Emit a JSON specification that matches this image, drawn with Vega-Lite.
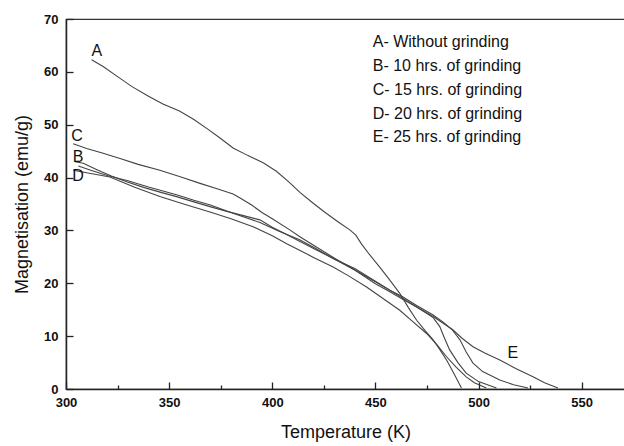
{
  "$schema": "https://vega.github.io/schema/vega-lite/v6.json",
  "width": 559,
  "height": 370,
  "autosize": "none",
  "padding": {"left": 66, "top": 19, "right": 0, "bottom": 57},
  "background": "white",
  "view": {"stroke": "#333", "strokeWidth": 1.2},
  "config": {
    "font": "Liberation Sans",
    "axis": {"grid": false, "domainColor": "#222", "domainWidth": 1.5, "tickColor": "#222", "tickWidth": 1.3,
      "labelFont": "Liberation Sans", "labelFontSize": 13, "labelFontWeight": "bold", "labelColor": "#111",
      "titleFont": "Liberation Sans", "titleFontSize": 18, "titleFontWeight": "normal", "titleColor": "#111"}
  },
  "datasets": {
    "curves": [
      {"s":"A","T":312.4,"M":62.3},{"s":"A","T":318,"M":61.0},{"s":"A","T":325,"M":59.1},{"s":"A","T":332,"M":57.2},{"s":"A","T":340,"M":55.4},{"s":"A","T":347,"M":53.9},{"s":"A","T":355,"M":52.6},{"s":"A","T":362,"M":51.0},{"s":"A","T":368.2,"M":49.3},{"s":"A","T":375,"M":47.4},{"s":"A","T":381,"M":45.6},{"s":"A","T":388,"M":44.2},{"s":"A","T":395.6,"M":42.8},{"s":"A","T":402,"M":41.2},{"s":"A","T":408,"M":39.2},{"s":"A","T":413.4,"M":37.2},{"s":"A","T":420,"M":35.1},{"s":"A","T":426.3,"M":33.2},{"s":"A","T":432,"M":31.6},{"s":"A","T":437.6,"M":30.1},{"s":"A","T":440.5,"M":29.1},{"s":"A","T":443.3,"M":27.4},{"s":"A","T":447,"M":25.5},{"s":"A","T":452,"M":23.1},{"s":"A","T":457,"M":20.6},{"s":"A","T":461.8,"M":18.1},{"s":"A","T":466,"M":15.4},{"s":"A","T":470,"M":13},{"s":"A","T":474,"M":11.1},{"s":"A","T":478,"M":9.3},{"s":"A","T":481,"M":7.6},{"s":"A","T":484.5,"M":5.5},{"s":"A","T":488,"M":3},{"s":"A","T":491.7,"M":0.2},
      {"s":"C","T":303.5,"M":46.4},{"s":"C","T":310,"M":45.5},{"s":"C","T":318,"M":44.6},{"s":"C","T":326.2,"M":43.6},{"s":"C","T":335,"M":42.5},{"s":"C","T":345.5,"M":41.4},{"s":"C","T":355,"M":40.2},{"s":"C","T":365,"M":38.9},{"s":"C","T":374,"M":37.8},{"s":"C","T":381,"M":36.9},{"s":"C","T":385,"M":36.0},{"s":"C","T":390,"M":34.8},{"s":"C","T":395,"M":33.4},{"s":"C","T":400,"M":32.2},{"s":"C","T":408.5,"M":30.1},{"s":"C","T":413,"M":28.9},{"s":"C","T":420,"M":27.2},{"s":"C","T":430,"M":24.8},{"s":"C","T":440,"M":22.5},{"s":"C","T":450,"M":20.3},{"s":"C","T":457,"M":18.7},{"s":"C","T":463,"M":17.5},{"s":"C","T":470,"M":15.8},{"s":"C","T":478,"M":14},{"s":"C","T":483,"M":12.6},{"s":"C","T":487,"M":11.3},{"s":"C","T":491,"M":9.3},{"s":"C","T":494,"M":7},{"s":"C","T":497.3,"M":4.9},{"s":"C","T":502,"M":3.3},{"s":"C","T":510.3,"M":1.7},{"s":"C","T":517,"M":0.8},{"s":"C","T":524,"M":0.2},
      {"s":"B","T":304.4,"M":43},{"s":"B","T":308.4,"M":42.7},{"s":"B","T":315,"M":41.5},{"s":"B","T":322,"M":40.3},{"s":"B","T":329.4,"M":39.2},{"s":"B","T":338,"M":38.1},{"s":"B","T":346,"M":37.2},{"s":"B","T":353.6,"M":36.4},{"s":"B","T":362,"M":35.4},{"s":"B","T":369.8,"M":34.5},{"s":"B","T":378,"M":33.6},{"s":"B","T":386,"M":32.8},{"s":"B","T":394,"M":32},{"s":"B","T":400,"M":30.6},{"s":"B","T":406,"M":29.4},{"s":"B","T":413,"M":28},{"s":"B","T":420,"M":26.6},{"s":"B","T":430,"M":24.6},{"s":"B","T":440,"M":22.8},{"s":"B","T":450,"M":20.4},{"s":"B","T":457,"M":18.7},{"s":"B","T":463,"M":17.2},{"s":"B","T":470,"M":15.5},{"s":"B","T":478,"M":13.5},{"s":"B","T":481.2,"M":11.8},{"s":"B","T":483.5,"M":9.6},{"s":"B","T":486,"M":7.4},{"s":"B","T":490,"M":5},{"s":"B","T":494,"M":3},{"s":"B","T":500,"M":1.4},{"s":"B","T":508.7,"M":0.2},
      {"s":"E","T":306,"M":42.2},{"s":"E","T":312,"M":41.4},{"s":"E","T":320,"M":40.4},{"s":"E","T":330,"M":39.4},{"s":"E","T":340,"M":38.2},{"s":"E","T":354,"M":36.7},{"s":"E","T":362,"M":35.7},{"s":"E","T":370,"M":34.8},{"s":"E","T":382,"M":33.1},{"s":"E","T":394,"M":31.5},{"s":"E","T":403,"M":29.9},{"s":"E","T":413,"M":28.3},{"s":"E","T":420,"M":26.8},{"s":"E","T":430,"M":24.6},{"s":"E","T":440,"M":22.5},{"s":"E","T":450,"M":19.9},{"s":"E","T":457,"M":18.4},{"s":"E","T":463,"M":17},{"s":"E","T":470,"M":15.5},{"s":"E","T":478,"M":13.7},{"s":"E","T":487.5,"M":11.2},{"s":"E","T":492,"M":9.6},{"s":"E","T":497.3,"M":8},{"s":"E","T":503,"M":6.8},{"s":"E","T":510.3,"M":5.5},{"s":"E","T":518,"M":3.9},{"s":"E","T":526.4,"M":2.3},{"s":"E","T":532,"M":1.2},{"s":"E","T":538.5,"M":0.2},
      {"s":"D","T":303.5,"M":41.4},{"s":"D","T":310,"M":40.9},{"s":"D","T":321.3,"M":40.1},{"s":"D","T":333,"M":38.2},{"s":"D","T":345.5,"M":36.4},{"s":"D","T":357,"M":35},{"s":"D","T":369.8,"M":33.5},{"s":"D","T":380,"M":32.2},{"s":"D","T":390.7,"M":30.7},{"s":"D","T":400,"M":29},{"s":"D","T":407,"M":27.5},{"s":"D","T":413,"M":26.3},{"s":"D","T":420,"M":24.9},{"s":"D","T":429.5,"M":23.1},{"s":"D","T":437,"M":21.4},{"s":"D","T":445.7,"M":19.3},{"s":"D","T":453,"M":17.3},{"s":"D","T":461.8,"M":14.9},{"s":"D","T":468,"M":12.8},{"s":"D","T":474.8,"M":10.5},{"s":"D","T":480,"M":8.3},{"s":"D","T":484.5,"M":6.1},{"s":"D","T":489,"M":4.2},{"s":"D","T":494,"M":2.3},{"s":"D","T":498,"M":1.2},{"s":"D","T":503.8,"M":0.2}
    ],
    "letters": [
      {"t":"A","T":315,"M":63.9},
      {"t":"C","T":305.3,"M":47.8},
      {"t":"B","T":305.8,"M":43.9},
      {"t":"D","T":305.8,"M":40.3},
      {"t":"E","T":516.6,"M":6.8}
    ],
    "legend": [
      {"t":"A- Without grinding","T":448.7,"M":65.7},
      {"t":"B- 10 hrs. of grinding","T":448.7,"M":61.1},
      {"t":"C- 15 hrs. of grinding","T":448.7,"M":56.5},
      {"t":"D- 20 hrs. of grinding","T":448.7,"M":52.0},
      {"t":"E- 25 hrs. of grinding","T":448.7,"M":47.6}
    ]
  },
  "layer": [
    {
      "data": {"name": "curves"},
      "mark": {"type": "line", "color": "#444", "strokeWidth": 1.1},
      "encoding": {
        "x": {"field": "T", "type": "quantitative",
          "scale": {"domain": [300, 571], "nice": false, "zero": false},
          "axis": {"title": "Temperature (K)", "values": [300,325,350,375,400,425,450,475,500,525,550],
            "labelExpr": "datum.value % 50 === 0 ? datum.label : ''",
            "tickSize": {"condition": {"test": "datum.value % 50 === 0", "value": -7}, "value": -4},
            "labelPadding": 14, "titlePadding": 14, "labelFlush": false}},
        "y": {"field": "M", "type": "quantitative",
          "scale": {"domain": [0, 70], "nice": false, "zero": true},
          "axis": {"title": "Magnetisation (emu/g)", "values": [0,5,10,15,20,25,30,35,40,45,50,55,60,65,70],
            "labelExpr": "datum.value % 10 === 0 ? datum.label : ''",
            "tickSize": {"condition": {"test": "datum.value % 10 === 0", "value": -7}, "value": -4},
            "labelPadding": 15, "titlePadding": 12}},
        "detail": {"field": "s"}
      }
    },
    {
      "data": {"name": "letters"},
      "mark": {"type": "text", "fontSize": 16, "font": "Liberation Sans", "color": "#111", "align": "center", "baseline": "middle"},
      "encoding": {
        "x": {"field": "T", "type": "quantitative"},
        "y": {"field": "M", "type": "quantitative"},
        "text": {"field": "t"}
      }
    },
    {
      "data": {"name": "legend"},
      "mark": {"type": "text", "fontSize": 16, "font": "Liberation Sans", "color": "#111", "align": "left", "baseline": "middle"},
      "encoding": {
        "x": {"field": "T", "type": "quantitative"},
        "y": {"field": "M", "type": "quantitative"},
        "text": {"field": "t"}
      }
    }
  ]
}
